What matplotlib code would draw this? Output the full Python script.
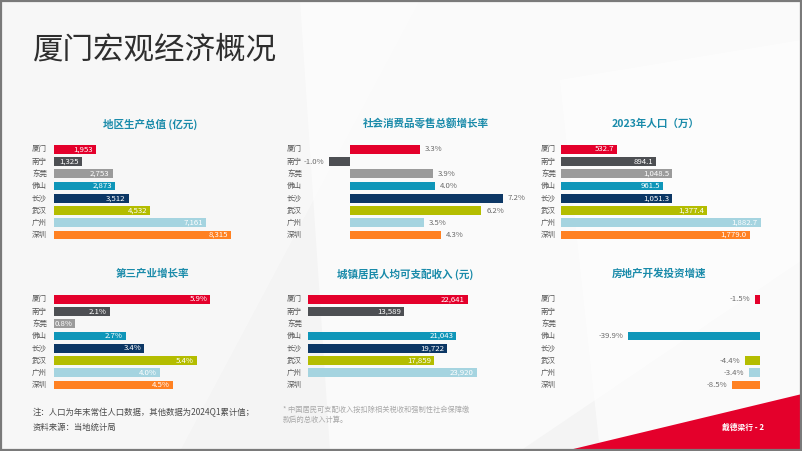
import numpy as np
import matplotlib
matplotlib.use("Agg")
import matplotlib.pyplot as plt
from matplotlib.patches import Polygon, Rectangle
from matplotlib.transforms import blended_transform_factory

plt.rcParams['font.family'] = ['Noto Sans CJK SC', 'DejaVu Sans']

# ---------------- data ----------------
cities = ["厦门", "南宁", "东莞", "佛山", "长沙", "武汉", "广州", "深圳"]
colors = ["#E4002B", "#4D4F53", "#9B9B9B", "#0F96B9", "#0C3765", "#B4BD00", "#A5D4E0", "#FF8122"]

gdp = [1953, 1325, 2753, 2873, 3512, 4532, 7161, 8315]
retail_growth = [3.3, -1.0, 3.9, 4.0, 7.2, 6.2, 3.5, 4.3]
population = [532.7, 894.1, 1048.5, 961.5, 1051.3, 1377.4, 1882.7, 1779.0]
tertiary_growth = [5.9, 2.1, 0.8, 2.7, 3.4, 5.4, 4.0, 4.5]
income = [22641, 13589, np.nan, 21043, 19722, 17859, 23920, np.nan]
realestate_growth = [-1.5, np.nan, np.nan, -39.9, np.nan, -4.4, -3.4, -8.5]

titles = ["地区生产总值 (亿元)", "社会消费品零售总额增长率", "2023年人口（万）",
          "第三产业增长率", "城镇居民人均可支配收入 (元)", "房地产开发投资增速"]

main_title = "厦门宏观经济概况"
note1 = "注：人口为年末常住人口数据，其他数据为2024Q1累计值；"
note2 = "资料来源：当地统计局"
note3 = "* 中国居民可支配收入按扣除相关税收和强制性社会保障缴"
note4 = "款后的总收入计算。"
brand = "戴德梁行 - 2"

# ---------------- figure ----------------
W, H = 802, 451
fig = plt.figure(figsize=(W / 100, H / 100), dpi=100)
fig.patch.set_facecolor("#F4F4F4")

def fx(x):
    return x / W

def fy(y):
    return 1 - y / H

# background soft shapes
bg = fig.add_axes([0, 0, 1, 1], zorder=-10)
bg.set_xlim(0, W); bg.set_ylim(H, 0); bg.axis("off")
bg.add_patch(Polygon([(0, 0), (420, 0), (180, 451), (0, 451)], closed=True, fc="white", ec="none", alpha=0.35))
bg.add_patch(Polygon([(300, 0), (802, 0), (802, 260), (520, 451), (330, 451)], closed=True, fc="white", ec="none", alpha=0.55))
bg.add_patch(Polygon([(560, 80), (802, 40), (802, 451), (600, 451)], closed=True, fc="white", ec="none", alpha=0.6))
# red corner shape
bg.add_patch(Polygon([(565, 451), (802, 394), (802, 451)], closed=True, fc="#E4002B", ec="none"))
# frame
bg.add_patch(Rectangle((0.5, 0.5), W - 1.5, H - 2, fill=False, ec="#7A7A7A", lw=1.6))

fig.text(fx(33), fy(50), main_title, fontsize=22, color="#2E2E2E", ha="left", va="center")
fig.text(fx(33), fy(413), note1, fontsize=6.0, color="#4A4A4A", ha="left", va="center")
fig.text(fx(33), fy(427), note2, fontsize=6.0, color="#4A4A4A", ha="left", va="center")
fig.text(fx(283), fy(410), note3, fontsize=5.2, color="#A8A8A8", ha="left", va="center")
fig.text(fx(283), fy(419.5), note4, fontsize=5.2, color="#A8A8A8", ha="left", va="center")
fig.text(fx(764), fy(427), brand, fontsize=5.6, color="white", ha="right", va="center", fontweight="bold")

# ---------------- panels ----------------
# (values, title, ax left px, ax right px, xlim, row, label x px, title center px, fmt, label mode)
panels = [
    (gdp, titles[0], 54, 240, (0, 8740), 0, 32, 150, "{:,.0f}", "in"),
    (retail_growth, titles[1], 320, 520, (-1.415, 8.02), 0, 287, 426, "{:.1f}%", "out"),
    (population, titles[2], 561, 780, (0, 2065), 0, 541, 656, "{:,.1f}", "in"),
    (tertiary_growth, titles[3], 54, 240, (0, 7.02), 1, 32, 152, "{:.1f}%", "in"),
    (income, titles[4], 307.7, 500, (0, 27218), 1, 287, 405, "{:,.0f}", "in"),
    (realestate_growth, titles[5], 600, 770, (-48.5, 3.03), 1, 541, 659, "{:.1f}%", "out"),
]

row_top = [143.2, 293.2]
row_bot = [241.1, 391.1]
title_y = [124, 274]

for vals, title, xl, xr, xlim, row, labx, tcx, fmt, mode in panels:
    top, bot = row_top[row], row_bot[row]
    ax = fig.add_axes([fx(xl), fy(bot), fx(xr) - fx(xl), (bot - top) / H])
    ax.set_facecolor("none")
    ax.set_xlim(*xlim)
    ax.set_ylim(len(cities) - 0.5, -0.5)
    ax.axis("off")
    y = np.arange(len(cities))
    v = np.array(vals, dtype=float)
    ax.barh(y, np.nan_to_num(v), height=0.72, color=colors, edgecolor="none")
    trans = blended_transform_factory(fig.transFigure, ax.transData)
    for i, c in enumerate(cities):
        ax.text(fx(labx), i, c, transform=trans, fontsize=5.4, color="#555555",
                ha="left", va="center")
        if np.isnan(v[i]):
            continue
        s = fmt.format(v[i])
        if mode == "in":
            ax.annotate(s, (v[i], i), xytext=(-2.2, 0), textcoords="offset points",
                        ha="right", va="center", fontsize=5.6, color="white")
        else:
            if v[i] >= 0:
                ax.annotate(s, (v[i], i), xytext=(3.6, 0), textcoords="offset points",
                            ha="left", va="center", fontsize=5.6, color="#6A6A6A")
            else:
                ax.annotate(s, (v[i], i), xytext=(-3.6, 0), textcoords="offset points",
                            ha="right", va="center", fontsize=5.6, color="#6A6A6A")
    fig.text(fx(tcx), fy(title_y[row]), title, fontsize=7.6, fontweight="bold",
             color="#1A8BAA", ha="center", va="center")

fig.savefig("out.png", dpi=100, facecolor=fig.get_facecolor())
